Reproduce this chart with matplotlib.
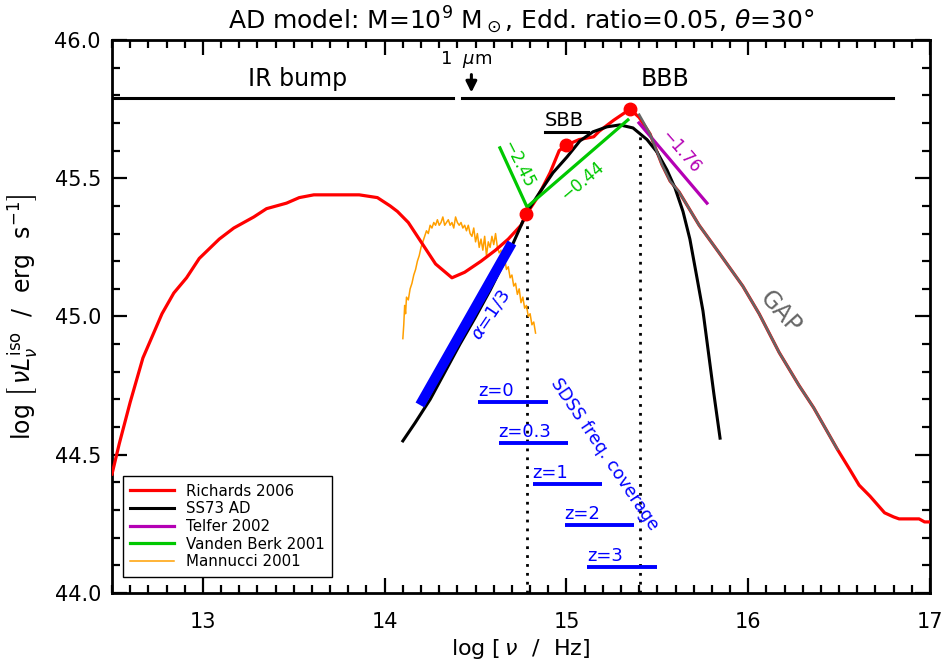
import numpy as np
import matplotlib
matplotlib.use("Agg")
import matplotlib.pyplot as plt

plt.rcParams['font.family'] = ['DejaVu Sans']
plt.rcParams['mathtext.fontset'] = 'dejavusans'

# Richards 2006 mean SED (log nu, log nuLnu)
rich_x = [12.50, 12.54, 12.60, 12.67, 12.775, 12.84, 12.91, 12.98, 13.09, 13.17, 13.28,
          13.35, 13.46, 13.53, 13.61, 13.86, 13.96, 14.03, 14.07, 14.13, 14.20, 14.28,
          14.37, 14.44, 14.53, 14.61, 14.68, 14.75, 14.78, 14.84, 14.91, 14.96, 15.00,
          15.07, 15.15, 15.18, 15.26, 15.35, 15.40, 15.46, 15.525, 15.57, 15.62, 15.73,
          15.84, 15.97, 16.06, 16.17, 16.28, 16.36, 16.49, 16.56, 16.61, 16.67, 16.75,
          16.80, 16.83, 16.94, 16.97, 17.00]
rich_y = [44.43, 44.54, 44.69, 44.85, 45.01, 45.085, 45.14, 45.21, 45.28, 45.32, 45.36,
          45.39, 45.41, 45.43, 45.44, 45.44, 45.43, 45.40, 45.38, 45.34, 45.27, 45.19,
          45.14, 45.16, 45.20, 45.24, 45.28, 45.33, 45.37, 45.43, 45.52, 45.60, 45.62,
          45.64, 45.65, 45.67, 45.71, 45.75, 45.72, 45.66, 45.55, 45.49, 45.45, 45.33,
          45.23, 45.11, 45.01, 44.87, 44.75, 44.67, 44.52, 44.445, 44.39, 44.35, 44.29,
          44.275, 44.268, 44.268, 44.257, 44.257]

# red dots on Richards curve
dot_x = [14.78, 15.00, 15.35]
dot_y = [45.37, 45.62, 45.75]

# GAP portion (grey, drawn on top)
gap_x = [15.40, 15.46, 15.525, 15.57, 15.62, 15.73, 15.84, 15.97, 16.06, 16.17, 16.28, 16.36, 16.49]
gap_y = [45.73, 45.66, 45.55, 45.49, 45.45, 45.33, 45.23, 45.11, 45.01, 44.87, 44.75, 44.67, 44.52]

# SS73 accretion disc
ad_x = [14.10, 14.167, 14.25, 14.332, 14.414, 14.497, 14.58, 14.69, 14.783, 14.854, 14.926,
        15.003, 15.074, 15.146, 15.223, 15.294, 15.366, 15.443, 15.498, 15.553, 15.597,
        15.641, 15.679, 15.718, 15.751, 15.779, 15.811, 15.845]
ad_y = [44.55, 44.615, 44.70, 44.80, 44.90, 44.995, 45.095, 45.24, 45.378, 45.45, 45.52,
        45.577, 45.635, 45.668, 45.686, 45.693, 45.682, 45.64, 45.595, 45.53, 45.465,
        45.38, 45.28, 45.14, 45.02, 44.88, 44.72, 44.56]

# Mannucci 2001 near-IR template
mann_x = [14.100, 14.105, 14.110, 14.115, 14.120, 14.130, 14.140, 14.150, 14.160, 14.170,
          14.180, 14.190, 14.200, 14.210, 14.220, 14.230, 14.240, 14.250, 14.260, 14.270,
          14.280, 14.290, 14.300, 14.310, 14.320, 14.330, 14.340, 14.350, 14.360, 14.370,
          14.380, 14.390, 14.400, 14.410, 14.420, 14.430, 14.440, 14.450, 14.460, 14.470,
          14.480, 14.490, 14.500, 14.510, 14.520, 14.530, 14.540, 14.550, 14.560, 14.570,
          14.580, 14.590, 14.600, 14.610, 14.620, 14.630, 14.640, 14.650, 14.660, 14.670,
          14.680, 14.690, 14.700, 14.710, 14.720, 14.730, 14.740, 14.750, 14.760, 14.770,
          14.780, 14.790, 14.800, 14.810, 14.820, 14.830]
mann_y = [44.92, 44.97, 45.04, 45.01, 45.07, 45.06, 45.10, 45.12, 45.15, 45.17,
          45.20, 45.22, 45.25, 45.27, 45.29, 45.31, 45.30, 45.33, 45.32, 45.34,
          45.33, 45.35, 45.33, 45.34, 45.36, 45.33, 45.34, 45.35, 45.33, 45.34,
          45.32, 45.36, 45.34, 45.33, 45.34, 45.32, 45.33, 45.31, 45.33, 45.30,
          45.29, 45.32, 45.27, 45.30, 45.25, 45.28, 45.24, 45.29, 45.22, 45.27,
          45.25, 45.29, 45.26, 45.30, 45.25, 45.23, 45.24, 45.20, 45.21, 45.17,
          45.18, 45.14, 45.15, 45.11, 45.12, 45.08, 45.10, 45.05, 45.07, 45.03,
          45.04, 45.00, 45.01, 44.97, 44.98, 44.94]

# Vanden Berk 2001 slopes, Telfer 2002 slope, alpha=1/3 bar
vb_x = [14.634, 14.783, 15.338]
vb_y = [45.61, 45.396, 45.711]
tel_x = [15.399, 15.773]
tel_y = [45.700, 45.410]
a13_x = [14.194, 14.700]
a13_y = [44.680, 45.266]

# SDSS frequency coverage per redshift
z_labels = ['z=0', 'z=0.3', 'z=1', 'z=2', 'z=3']
z_lo = [14.513, 14.627, 14.814, 14.990, 15.115]
z_hi = [14.897, 15.011, 15.198, 15.374, 15.499]
z_lev = [44.691, 44.542, 44.394, 44.246, 44.094]

fig = plt.figure(figsize=(9.46, 6.68), dpi=100)
ax = fig.add_axes([0.1184, 0.1123, 0.8647, 0.8278])

ax.plot(rich_x, rich_y, color='red', lw=2.3, label='Richards 2006', zorder=3)
ax.plot(gap_x, gap_y, color='#666666', lw=1.8, zorder=4)
ax.plot(ad_x, ad_y, color='black', lw=2.2, label='SS73 AD', zorder=3)
ax.plot(tel_x, tel_y, color='#b400b4', lw=2.3, label='Telfer 2002', zorder=3)
ax.plot(vb_x, vb_y, color='#00c800', lw=2.3, label='Vanden Berk 2001', zorder=3)
ax.plot(mann_x, mann_y, color='#ff9f00', lw=1.1, label='Mannucci 2001', zorder=2)
ax.plot(a13_x, a13_y, color='blue', lw=7.2, solid_capstyle='butt', zorder=3)
ax.plot(dot_x, dot_y, 'o', color='red', ms=9, zorder=5)

# dotted verticals
ax.plot([14.783, 14.783], [44.0, 45.37], color='black', lw=2, ls=(0, (1, 2.2)), zorder=1)
ax.plot([15.404, 15.404], [44.0, 45.66], color='black', lw=2, ls=(0, (1, 2.2)), zorder=1)

# top bars
ax.plot([12.5, 14.376], [45.79, 45.79], color='black', lw=2.2)
ax.plot([14.425, 16.796], [45.79, 45.79], color='black', lw=2.2)
ax.text(13.52, 45.86, 'IR bump', fontsize=17, ha='center', va='center')
ax.text(15.54, 45.86, 'BBB', fontsize=17, ha='center', va='center')
ax.text(14.447, 45.93, r'1  $\mu$m', fontsize=13, ha='center', va='center')
ax.annotate('', xy=(14.477, 45.80), xytext=(14.477, 45.885),
            arrowprops=dict(arrowstyle='-|>', color='black', lw=2.2, mutation_scale=16))

# SBB
ax.plot([14.88, 15.12], [45.667, 45.667], color='black', lw=2.2)
ax.text(14.99, 45.71, 'SBB', fontsize=14, ha='center', va='center')

# slope labels
ax.text(14.733, 45.55, '\u22122.45', color='#00c800', fontsize=12, rotation=-63,
        ha='center', va='center', rotation_mode='anchor')
ax.text(15.09, 45.49, '\u22120.44', color='#00c800', fontsize=12, rotation=40,
        ha='center', va='center', rotation_mode='anchor')
ax.text(15.63, 45.595, '\u22121.76', color='#b400b4', fontsize=12, rotation=-49,
        ha='center', va='center', rotation_mode='anchor')
ax.text(16.174, 45.013, 'GAP', color='#666666', fontsize=17, rotation=-48,
        ha='center', va='center', rotation_mode='anchor')
ax.text(14.585, 45.005, r'$\alpha$=1/3', color='blue', fontsize=13, rotation=56,
        ha='center', va='center', rotation_mode='anchor')
ax.text(15.212, 44.50, 'SDSS freq. coverage', color='blue', fontsize=12.5, rotation=-56,
        ha='center', va='center', rotation_mode='anchor')

for lab, lo, hi, lev in zip(z_labels, z_lo, z_hi, z_lev):
    ax.plot([lo, hi], [lev, lev], color='blue', lw=2.8, solid_capstyle='butt')
    ax.text(lo, lev + 0.008, lab, color='blue', fontsize=13, ha='left', va='bottom')

ax.set_xlim(12.5, 17.0)
ax.set_ylim(44.0, 46.0)
ax.set_xticks([13, 14, 15, 16, 17])
ax.set_xticks(np.arange(12.5, 17.01, 0.1), minor=True)
ax.set_yticks([44.0, 44.5, 45.0, 45.5, 46.0])
ax.set_yticklabels(['44.0', '44.5', '45.0', '45.5', '46.0'])
ax.set_yticks(np.arange(44.0, 46.01, 0.1), minor=True)
ax.tick_params(which='both', direction='in', top=True, right=True, labelsize=15, width=1.6)
ax.tick_params(which='major', length=11)
ax.tick_params(axis='x', which='major', pad=14)
ax.tick_params(axis='y', which='major', pad=8)
ax.tick_params(which='minor', length=6)
for s in ax.spines.values():
    s.set_linewidth(2)

ax.set_xlabel(r'log $\left[\,\nu\ \ /\ \ \mathrm{Hz}\right]$', fontsize=16, labelpad=3)
ax.set_ylabel(r'log $\left[\,\nu L_\nu^{\rm iso}\ \ /\ \ \mathrm{erg\ \ s^{-1}}\right]$',
              fontsize=17, labelpad=10)
ax.set_title('AD model: M=10$^9$ M$_\\odot$, Edd. ratio=0.05, $\\theta$=30\u00b0',
             fontsize=18, pad=8)

leg = ax.legend(loc='lower left', bbox_to_anchor=(0.013, 0.029), fontsize=10.8,
                frameon=True, fancybox=False, edgecolor='black', framealpha=1,
                handlelength=2.9, handletextpad=0.8, labelspacing=0.18,
                borderpad=0.5, borderaxespad=0)
leg.get_frame().set_linewidth(1)

fig.savefig('out.png', dpi=100)
